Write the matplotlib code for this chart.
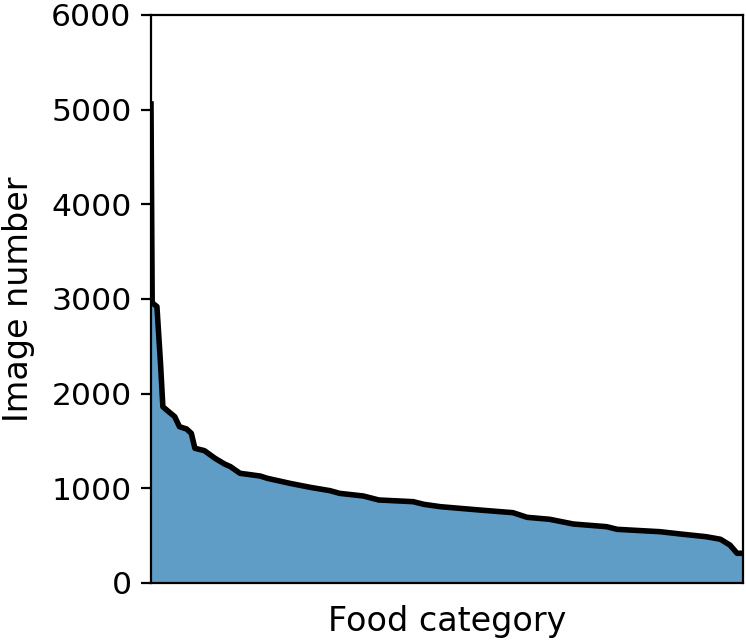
import matplotlib
matplotlib.use("Agg")
import matplotlib.pyplot as plt

# category rank (sorted by size) and image count
ranks = [0, 1, 5, 8, 10, 15, 20, 24, 30, 34, 37, 45, 54, 62, 67, 75,
         92, 98, 117, 134, 151, 159, 179, 192, 221, 230, 244, 277, 305,
         317, 336, 356, 384, 393, 429, 446, 468, 480, 488, 494, 499]
counts = [5060, 2960, 2920, 2324, 1862, 1809, 1757, 1651, 1627, 1581,
          1423, 1398, 1317, 1257, 1229, 1159, 1130, 1106, 1053, 1011,
          975, 947, 919, 877, 859, 831, 806, 771, 743, 694, 673, 623,
          595, 567, 542, 518, 489, 462, 401, 314, 314]
n_categories = 500

plt.rcParams['font.size'] = 12

fig = plt.figure(figsize=(3.73, 3.205), dpi=200)
ax = fig.add_axes([151 / 746, 58 / 641, 592 / 746, 568 / 641])

ax.fill_between(ranks, counts, 0, color='#5f9dc6', linewidth=0)
ax.plot(ranks, counts, color='black', linewidth=2)

ax.set_xlim(0, n_categories - 1)
ax.set_ylim(0, 6000)
ax.set_xticks([])
ax.set_yticks([0, 1000, 2000, 3000, 4000, 5000, 6000])
ax.tick_params(axis='y', labelsize=11.3)
ax.set_xlabel("Food category", labelpad=8)
ax.set_ylabel("Image number", labelpad=6)

fig.savefig("out.png", dpi=200)
